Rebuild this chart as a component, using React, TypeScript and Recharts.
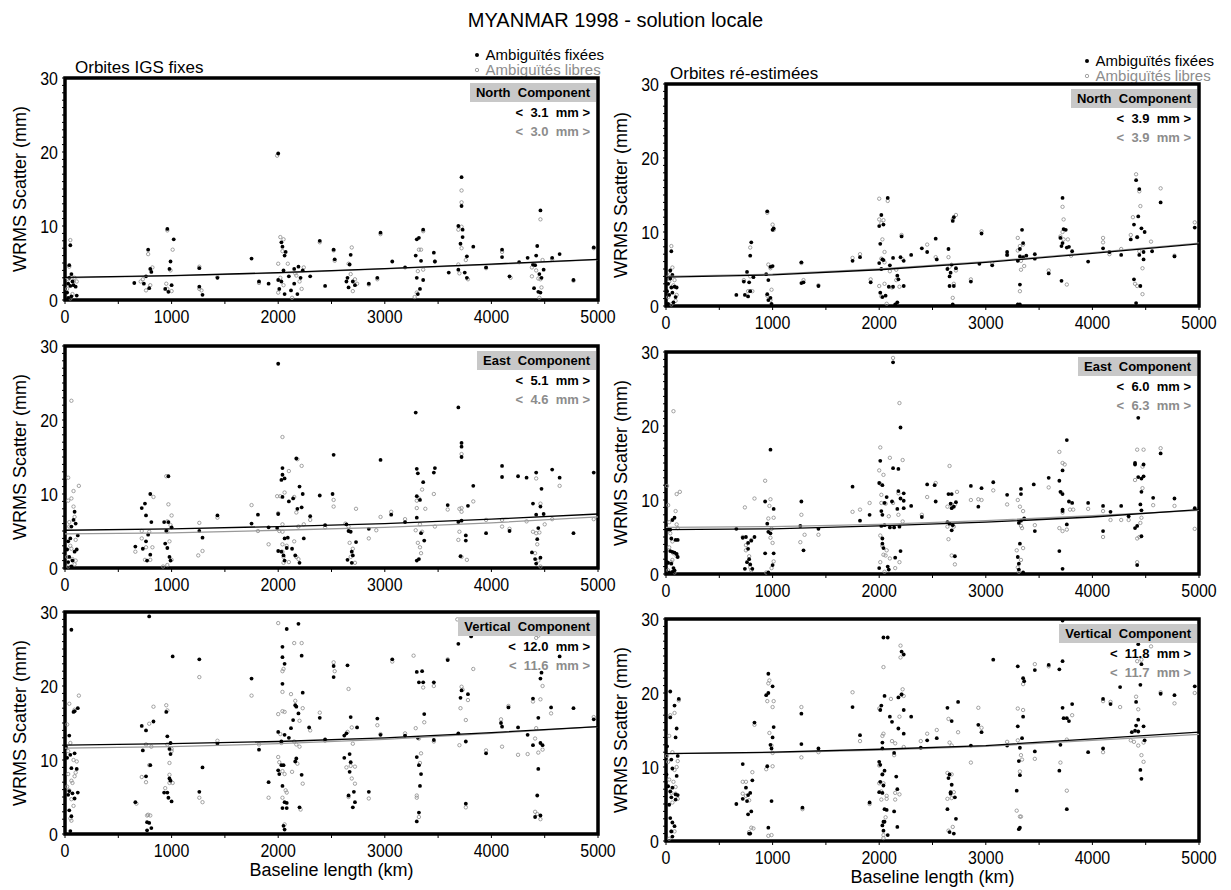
import { ScatterChart, Scatter, XAxis, YAxis, ReferenceArea } from 'recharts'

type P = [number, number]

const FONT = "'Liberation Sans', Arial, sans-serif"
const GRAY = '#8c8c8c'

const xTicks = [0, 500, 1000, 1500, 2000, 2500, 3000, 3500, 4000, 4500, 5000]
const yTicks = [0, 1, 2, 3, 4, 5, 6, 7, 8, 9, 10, 11, 12, 13, 14, 15, 16, 17, 18, 19, 20, 21, 22, 23, 24, 25, 26, 27, 28, 29, 30]
const xLabels = [0, 1000, 2000, 3000, 4000, 5000]
const yLabels = [0, 10, 20, 30]

// ---- North, IGS orbits fixed
const northIgsFixed: P[] = [
  [50, 7.4], [40, 4.7], [60, 3.5], [30, 2.2], [50, 1.9], [80, 2.0], [100, 1.8], [20, 1.0], [60, 0.5], [110, 0.6], [40, 3.0], [70, 2.5], [30, 0.3],
  [780, 6.8], [800, 4.2], [760, 3.2], [740, 2.2], [790, 1.6], [810, 3.8], [650, 2.3],
  [960, 9.6], [1020, 8.2], [990, 5.2], [980, 4.2], [940, 1.5], [970, 1.1], [1000, 2.0],
  [1260, 1.8], [1290, 0.7], [1260, 4.3], [1430, 3.0], [1750, 5.6], [1820, 2.5], [1910, 2.2],
  [2000, 19.8], [2030, 7.8], [2040, 7.2], [2060, 6.0], [2070, 6.5], [2050, 4.0], [2000, 2.7], [2010, 1.5], [2030, 2.5], [2060, 0.8],
  [2100, 3.2], [2150, 2.2], [2150, 4.2], [2190, 4.5], [2210, 3.0], [2180, 0.8], [2230, 4.0], [2120, 1.3],
  [2300, 3.2], [2390, 8.0], [2440, 1.9], [2520, 6.8], [2530, 5.5],
  [2680, 6.1], [2670, 4.8], [2650, 3.0], [2660, 1.7], [2700, 2.5], [2720, 2.0], [2640, 2.5],
  [2850, 2.2], [2960, 9.1], [2930, 3.0], [3070, 5.2], [3190, 4.4],
  [3300, 8.2], [3320, 8.4], [3360, 9.5], [3290, 6.0], [3340, 5.3], [3300, 3.0], [3330, 1.5], [3310, 0.8], [3360, 2.7], [3460, 6.4], [3470, 5.2],
  [3600, 3.7], [3720, 16.6], [3720, 12.7], [3690, 10.0], [3730, 9.5], [3710, 7.6], [3730, 8.5], [3690, 4.1], [3750, 3.7], [3770, 3.0], [3770, 5.9], [3830, 7.2],
  [3950, 4.4], [4100, 6.8], [4100, 5.8], [4170, 3.2], [4260, 5.1], [4340, 5.7],
  [4460, 12.1], [4430, 7.3], [4420, 6.0], [4390, 4.8], [4410, 4.7], [4450, 3.5], [4470, 3.0], [4490, 4.1], [4400, 1.6], [4440, 1.1], [4460, 1.0],
  [4570, 5.7], [4640, 6.2], [4770, 2.7], [4960, 7.1],
]
const northIgsFree: P[] = [
  [50, 8.1], [40, 4.5], [60, 3.2], [30, 2.8], [80, 2.5], [20, 1.5], [70, 0.8], [90, 3.0], [110, 2.5], [50, 0.2],
  [780, 6.2], [820, 4.4], [730, 2.8], [760, 1.3], [800, 2.0], [710, 2.5],
  [960, 9.4], [1010, 6.8], [990, 4.0], [950, 2.2], [960, 1.5], [1000, 1.2],
  [1260, 4.5], [1260, 1.5], [1280, 1.3], [1430, 3.1], [1820, 2.3],
  [1990, 19.5], [2020, 8.5], [2050, 8.2], [2040, 6.6], [2000, 4.9], [2020, 3.0], [2000, 1.0], [2050, 2.0], [2090, 4.9], [2160, 3.6], [2200, 2.5], [2220, 1.5], [2240, 4.4], [2130, 0.3], [2170, 3.3],
  [2390, 7.8], [2520, 6.7], [2530, 5.3], [2690, 7.1], [2660, 4.9], [2680, 3.5], [2700, 1.2], [2720, 2.8], [2740, 2.2], [2850, 2.1], [2960, 8.9], [2930, 2.8],
  [3280, 0.4], [3310, 3.9], [3340, 6.8], [3320, 6.8], [3360, 4.1], [3360, 9.3], [3470, 5.2], [3300, 1.0],
  [3720, 14.8], [3720, 13.2], [3690, 9.5], [3720, 9.9], [3720, 7.0], [3690, 4.8], [3700, 3.6], [3760, 5.4], [3780, 2.8], [3950, 4.3], [4100, 6.5], [4180, 3.0],
  [4460, 10.9], [4380, 4.4], [4420, 4.0], [4440, 2.9], [4460, 2.8], [4470, 1.7], [4450, 0.3], [4380, 3.2], [4480, 5.4], [4570, 5.5], [4770, 2.6], [4960, 7.0],
]
const northIgsFitFixed: P[] = [[0, 3.05], [1000, 3.3], [2000, 3.7], [3000, 4.25], [4000, 4.85], [5000, 5.5]]
const northIgsFitFree: P[] = [[0, 3.0], [1000, 3.25], [2000, 3.65], [3000, 4.2], [4000, 4.8], [5000, 5.45]]

// ---- North, re-estimated orbits
const northEstFixed: P[] = [
  [50, 7.4], [40, 4.8], [60, 4.2], [20, 3.0], [50, 2.5], [80, 2.6], [100, 2.5], [30, 1.5], [60, 1.8], [90, 1.2], [20, 0.3], [70, 0.5], [40, 3.7], [10, 2.0],
  [660, 1.5], [740, 1.5], [760, 4.6], [780, 3.2], [790, 6.8], [800, 8.6], [770, 1.3], [820, 3.9], [790, 2.0], [730, 3.3],
  [950, 12.8], [1010, 10.5], [1000, 10.3], [940, 4.3], [980, 5.3], [1000, 5.4], [950, 1.6], [960, 0.8], [980, 1.1], [990, 0.3], [960, 3.5],
  [1270, 5.9], [1270, 3.1], [1290, 3.2], [1430, 2.7], [1750, 6.1], [1820, 6.6], [1920, 3.2],
  [2020, 12.3], [2000, 10.8], [2040, 11.0], [2080, 14.6], [2010, 8.4], [2030, 6.3], [2000, 5.8], [2040, 6.2], [2020, 5.0], [2100, 5.5], [2130, 6.5],
  [2010, 1.8], [2030, 1.2], [2060, 1.4], [2090, 2.6], [2130, 2.6], [2150, 0.2], [2170, 4.1], [2200, 6.6], [2210, 9.4], [2230, 6.1], [2180, 3.6], [2230, 2.7], [2170, 0.5],
  [2300, 6.9], [2400, 7.8], [2450, 7.3], [2530, 9.1], [2540, 6.3],
  [2650, 7.7], [2640, 5.0], [2660, 4.0], [2700, 12.0], [2690, 11.5], [2680, 5.6], [2670, 4.5], [2660, 2.7], [2700, 2.7], [2690, 0.2], [2720, 5.1],
  [2860, 3.3], [2940, 5.7], [2960, 9.8], [3060, 5.5], [3200, 7.3], [3200, 6.9],
  [3340, 10.3], [3350, 8.5], [3320, 7.7], [3300, 6.1], [3320, 6.7], [3350, 6.6], [3380, 6.8], [3320, 2.9], [3300, 0.2], [3320, 0.2], [3460, 7.0], [3460, 6.4],
  [3590, 4.4], [3700, 9.2], [3720, 14.6], [3730, 10.4], [3720, 8.5], [3710, 8.1], [3750, 10.3], [3760, 7.9], [3710, 3.4], [3780, 8.0], [3810, 7.4],
  [3960, 6.0], [4100, 7.8], [4160, 7.3], [4270, 6.9], [4360, 9.0],
  [4410, 17.0], [4440, 15.8], [4390, 11.0], [4430, 12.1], [4460, 10.5], [4420, 9.3], [4490, 10.0], [4480, 7.3], [4440, 6.9], [4480, 6.3], [4390, 3.6], [4450, 2.7], [4410, 0.4],
  [4560, 7.4], [4640, 14.0], [4770, 6.7], [4960, 10.6],
]
const northEstFree: P[] = [
  [50, 8.1], [60, 5.2], [40, 4.3], [30, 3.3], [80, 3.5], [70, 2.8], [20, 1.2], [90, 0.7], [50, 0.2], [100, 1.5],
  [790, 7.9], [730, 3.5], [770, 2.0], [810, 2.0], [790, 4.0],
  [950, 12.6], [1000, 11.0], [1010, 10.3], [960, 5.6], [980, 5.1], [990, 2.2], [950, 1.4], [980, 0.8],
  [1270, 5.8], [1290, 3.5], [1430, 2.8], [1750, 6.5], [1820, 7.0], [1920, 3.6],
  [2000, 14.5], [2080, 14.2], [2000, 11.7], [2040, 11.6], [2020, 11.2], [2030, 9.0], [2050, 7.3], [2020, 6.4], [2050, 5.9], [2100, 4.7], [2050, 3.0], [2000, 2.7],
  [2020, 1.3], [2070, 0.3], [2120, 2.5], [2160, 3.5], [2190, 2.6], [2210, 9.6], [2220, 6.3], [2160, 4.9],
  [2450, 8.3], [2530, 6.6], [2650, 6.6], [2690, 11.7], [2720, 12.3], [2660, 5.3], [2700, 3.0], [2690, 1.1], [2720, 4.8],
  [2860, 3.6], [2960, 10.1], [3060, 5.8], [3200, 6.9],
  [3300, 9.2], [3320, 8.1], [3350, 8.3], [3330, 6.1], [3360, 5.4], [3300, 7.5], [3320, 2.0], [3330, 4.9],
  [3590, 4.8], [3700, 9.4], [3730, 11.7], [3720, 13.4], [3720, 10.0], [3730, 9.0], [3770, 9.0], [3760, 2.9], [3800, 6.8],
  [4100, 9.2], [4100, 8.6], [4160, 7.0], [4270, 7.7], [4360, 9.6],
  [4410, 17.8], [4440, 15.5], [4450, 13.5], [4380, 12.0], [4420, 9.3], [4440, 7.4], [4470, 5.1], [4400, 3.0], [4420, 2.7], [4470, 1.6],
  [4550, 8.7], [4640, 15.9], [4770, 6.8], [4960, 11.3],
]
const northEstFitFixed: P[] = [[0, 3.9], [1000, 4.2], [2000, 4.9], [3000, 5.9], [4000, 7.1], [5000, 8.4]]
const northEstFitFree: P[] = [[0, 4.0], [1000, 4.3], [2000, 5.0], [3000, 6.0], [4000, 7.2], [5000, 8.5]]

// ---- East, IGS orbits fixed
const eastIgsFixed: P[] = [
  [60, 5.6], [90, 7.6], [100, 6.0], [80, 6.5], [50, 4.0], [30, 3.6], [20, 2.5], [40, 1.5], [60, 0.2], [110, 2.5], [120, 4.4], [70, 1.0], [30, 0.8], [90, 2.2],
  [660, 2.9], [720, 8.1], [750, 8.7], [760, 7.1], [800, 10.0], [810, 6.2], [730, 2.6], [770, 1.0], [760, 3.6], [800, 1.8], [780, 4.5],
  [970, 12.4], [930, 6.2], [970, 6.2], [1000, 5.5], [940, 3.3], [960, 2.7], [980, 1.5], [990, 1.0], [950, 5.0],
  [1260, 5.0], [1290, 4.1], [1430, 7.1], [1750, 6.0], [1810, 7.2], [1910, 5.5], [1990, 5.4],
  [2000, 27.6], [2040, 13.5], [2040, 12.6], [2060, 12.1], [2030, 11.9], [2040, 9.6], [2000, 7.3], [2060, 4.0], [2000, 2.3], [2030, 2.2], [2050, 1.7], [2060, 1.0],
  [2080, 2.7], [2090, 4.1], [2100, 9.0], [2140, 9.4], [2170, 14.8], [2180, 8.0], [2200, 11.0], [2230, 10.0], [2220, 8.2], [2130, 2.6], [2160, 1.7], [2200, 0.7], [2240, 4.0],
  [2300, 7.0], [2390, 9.8], [2440, 5.8], [2520, 15.3], [2510, 10.0],
  [2640, 5.9], [2660, 5.0], [2680, 4.9], [2650, 1.1], [2700, 1.7], [2690, 2.2], [2730, 3.5], [2690, 0.7],
  [2850, 5.3], [2960, 14.6], [3060, 7.2], [3190, 6.2],
  [3290, 21.0], [3300, 13.4], [3300, 9.7], [3310, 12.8], [3360, 11.6], [3330, 9.2], [3300, 6.8], [3340, 4.7], [3370, 3.7], [3300, 1.0], [3320, 1.2], [3460, 12.9], [3470, 13.5],
  [3590, 8.5], [3690, 21.7], [3720, 16.9], [3720, 16.4], [3720, 15.0], [3690, 6.2], [3720, 6.4], [3760, 4.4], [3760, 3.7], [3710, 1.6], [3780, 8.4], [3830, 11.1],
  [3950, 4.7], [4100, 13.8], [4100, 12.3], [4250, 12.4], [4330, 12.2], [4170, 5.0],
  [4390, 8.7], [4420, 12.9], [4420, 7.2], [4460, 8.3], [4470, 10.7], [4490, 7.3], [4440, 5.4], [4430, 3.9], [4380, 2.1], [4410, 1.2], [4460, 1.4], [4420, 0.6],
  [4570, 13.3], [4640, 12.2], [4770, 4.7], [4960, 12.9],
]
const eastIgsFree: P[] = [
  [30, 12.2], [60, 22.6], [80, 10.4], [130, 11.1], [30, 9.1], [60, 9.4], [80, 8.3], [90, 6.9], [40, 6.2], [40, 5.6], [100, 3.8], [50, 3.0], [60, 2.6], [20, 1.5], [70, 1.2], [100, 1.0], [30, 0.2], [90, 0.5],
  [660, 2.2], [720, 5.0], [720, 4.0], [760, 2.8], [790, 4.9], [830, 9.6], [800, 1.1], [750, 1.1], [820, 2.8],
  [950, 12.4], [970, 8.6], [1000, 7.1], [960, 6.3], [990, 5.8], [960, 4.9], [980, 3.6], [920, 0.2], [960, 0.4], [1000, 1.1],
  [1260, 6.1], [1250, 1.7], [1290, 2.3], [1430, 6.8], [1750, 8.5], [1810, 5.0], [1910, 3.2], [1990, 9.7],
  [2040, 17.7], [2020, 9.7], [2060, 10.2], [2000, 7.4], [2040, 5.9], [2010, 5.0], [2040, 4.9], [2040, 3.2], [2040, 2.2], [2050, 1.5], [2050, 0.7], [2080, 3.0],
  [2100, 13.1], [2150, 9.6], [2170, 7.5], [2180, 14.7], [2220, 13.8], [2240, 5.9], [2190, 5.6], [2150, 3.6], [2190, 1.2], [2170, 1.5], [2100, 0.8],
  [2300, 6.5], [2440, 5.5], [2520, 9.2], [2520, 8.3], [2630, 6.0], [2660, 5.6], [2730, 8.0], [2670, 3.4], [2680, 1.5], [2720, 0.7], [2700, 2.6],
  [2850, 4.0], [2920, 5.1], [2960, 6.9], [3060, 7.6], [3190, 6.6],
  [3300, 9.1], [3300, 8.1], [3320, 9.4], [3330, 5.9], [3350, 10.6], [3380, 8.0], [3290, 5.1], [3310, 3.4], [3330, 2.8], [3350, 4.9], [3340, 2.0], [3460, 10.0], [3470, 5.6],
  [3590, 7.9], [3720, 15.4], [3700, 8.0], [3720, 8.1], [3720, 7.6], [3690, 3.8], [3700, 4.9], [3720, 1.5], [3770, 1.1], [3830, 9.0],
  [3950, 6.5], [4100, 6.5], [4100, 5.6], [4170, 5.3], [4330, 6.3],
  [4420, 12.1], [4460, 8.7], [4390, 4.9], [4420, 4.7], [4450, 4.8], [4430, 3.2], [4410, 2.0], [4440, 1.0], [4460, 0.2], [4500, 5.9], [4570, 6.6], [4640, 11.1], [4960, 6.6],
]
const eastIgsFitFixed: P[] = [[0, 5.1], [1000, 5.3], [2000, 5.6], [3000, 6.0], [4000, 6.6], [5000, 7.3]]
const eastIgsFitFree: P[] = [[0, 4.6], [1000, 4.75], [2000, 5.1], [3000, 5.5], [4000, 6.1], [5000, 6.9]]

// ---- East, re-estimated orbits
const eastEstFixed: P[] = [
  [20, 6.0], [40, 6.0], [60, 7.3], [80, 7.6], [50, 4.8], [90, 4.6], [110, 4.6], [60, 3.0], [80, 2.9], [100, 2.7], [110, 2.3], [20, 1.5], [50, 1.4], [70, 0.8], [30, 0.2], [60, 0.3], [80, 0.5], [10, 1.6], [40, 3.1],
  [660, 6.1], [720, 4.9], [750, 5.0], [770, 4.2], [800, 4.5], [740, 0.7], [760, 1.6], [780, 2.0], [790, 1.3], [810, 0.7], [830, 5.0], [770, 3.4],
  [980, 16.8], [930, 9.8], [1010, 8.8], [950, 6.8], [980, 5.5], [960, 5.7], [1010, 2.8], [930, 2.8], [1000, 1.2], [960, 0.2],
  [1270, 9.8], [1260, 6.5], [1290, 3.2], [1430, 6.1], [1750, 11.8], [1820, 7.2], [1910, 8.0],
  [2130, 28.6], [2200, 19.8], [2010, 15.3], [2130, 14.3], [2180, 14.2], [2000, 12.3], [2030, 12.0], [2070, 10.4], [2120, 9.8], [2200, 10.2], [2230, 10.9], [2230, 9.9], [2180, 11.2],
  [2050, 9.6], [2020, 8.5], [2030, 8.0], [2020, 6.5], [2050, 6.6], [2100, 6.3], [2140, 6.3], [2190, 6.4], [2030, 4.8], [2030, 4.1], [2040, 3.5], [2200, 3.1], [2150, 2.2],
  [2000, 0.8], [2080, 1.0], [2090, 0.6], [2170, 8.8], [2230, 8.9], [2300, 9.2],
  [2400, 7.7], [2450, 12.1], [2520, 12.0], [2530, 9.8],
  [2650, 10.8], [2680, 10.8], [2670, 9.5], [2680, 8.9], [2700, 9.1], [2660, 6.8], [2690, 6.6], [2680, 5.9], [2720, 9.7], [2710, 2.4], [2640, 7.0],
  [2860, 11.9], [2930, 9.1], [2960, 11.6], [3070, 12.4], [3200, 10.7],
  [3330, 11.5], [3330, 10.8], [3310, 6.9], [3330, 7.2], [3360, 7.5], [3300, 2.3], [3320, 4.1], [3310, 1.4], [3310, 0.6], [3350, 0.2], [3450, 12.1], [3460, 5.8],
  [3590, 13.0], [3690, 12.6], [3700, 11.1], [3720, 10.8], [3720, 14.0], [3760, 18.1], [3780, 9.8], [3810, 9.6], [3720, 8.7], [3720, 8.5], [3690, 3.1], [3760, 6.7], [3720, 0.7],
  [3960, 9.6], [4100, 9.2], [4100, 5.8], [4170, 8.4], [4270, 9.2], [4340, 7.8],
  [4430, 21.1], [4400, 15.0], [4400, 14.8], [4430, 13.1], [4460, 12.9], [4480, 13.2], [4480, 14.8], [4460, 11.1], [4450, 9.4], [4460, 8.6], [4420, 6.5], [4400, 6.2], [4460, 5.1], [4420, 1.2],
  [4570, 10.3], [4640, 16.3], [4770, 10.2], [4960, 8.9],
]
const eastEstFree: P[] = [
  [70, 22.0], [10, 11.9], [100, 10.8], [130, 11.1], [20, 9.3], [90, 8.5], [30, 7.0], [100, 6.7], [110, 6.2], [40, 5.5], [60, 4.4], [30, 3.6], [70, 2.8], [100, 2.4], [50, 1.6], [20, 0.5], [80, 0.2], [60, 1.9],
  [740, 9.0], [830, 10.2], [720, 5.0], [750, 3.9], [780, 2.4], [800, 4.6], [750, 3.2], [790, 0.9], [800, 0.5],
  [930, 12.6], [980, 10.1], [970, 9.2], [960, 7.5], [1010, 7.6], [990, 6.1], [980, 4.9], [1000, 4.2], [1010, 1.7], [990, 0.8], [940, 0.2],
  [1270, 8.0], [1260, 4.3], [1300, 5.3], [1430, 5.3], [1750, 8.4], [1820, 8.7], [1910, 9.6],
  [2010, 17.1], [2100, 15.7], [2000, 14.0], [2040, 13.4], [2010, 12.2], [2020, 10.7], [2020, 9.6], [2060, 9.5], [2130, 9.6], [2180, 10.9], [2220, 15.4], [2220, 7.1], [2180, 8.0],
  [2010, 5.2], [2030, 3.8], [2040, 2.6], [2060, 2.5], [2070, 3.2], [2100, 2.1], [2010, 1.6], [2150, 0.8], [2190, 1.6], [2050, 0.3], [2190, 23.1], [2130, 29.2], [2090, 7.8],
  [2400, 8.0], [2450, 10.4], [2530, 12.3], [2660, 14.6], [2640, 9.1], [2680, 9.4], [2640, 6.4], [2650, 4.7], [2700, 6.4], [2680, 2.5], [2710, 1.3], [2710, 9.4], [2730, 11.1],
  [2860, 10.0], [2930, 10.1], [2960, 10.0], [3070, 11.3], [3200, 9.4],
  [3300, 10.0], [3320, 9.1], [3350, 8.5], [3340, 6.2], [3330, 6.5], [3290, 3.2], [3300, 0.9], [3310, 0.3], [3350, 3.5], [3330, 1.9], [3460, 6.6],
  [3590, 11.7], [3690, 16.5], [3720, 15.0], [3740, 14.8], [3710, 11.0], [3720, 8.3], [3690, 6.2], [3720, 5.8], [3760, 6.0], [3790, 8.7], [3820, 8.7],
  [3960, 8.8], [4100, 8.5], [4100, 5.0], [4170, 7.3], [4270, 7.3], [4340, 7.3],
  [4420, 16.8], [4480, 16.8], [4400, 12.7], [4470, 14.5], [4470, 11.6], [4460, 7.6], [4420, 4.8], [4440, 5.0], [4450, 6.9], [4420, 1.6],
  [4570, 9.3], [4640, 17.0], [4770, 9.2], [4960, 6.1],
]
const eastEstFitFixed: P[] = [[0, 6.0], [1000, 6.1], [2000, 6.5], [3000, 7.0], [4000, 7.7], [5000, 8.7]]
const eastEstFitFree: P[] = [[0, 6.3], [1000, 6.4], [2000, 6.7], [3000, 7.2], [4000, 7.9], [5000, 8.6]]

// ---- Vertical, IGS orbits fixed
const vertIgsFixed: P[] = [
  [60, 27.6], [120, 17.0], [80, 16.5], [90, 16.6], [40, 13.3], [10, 11.7], [50, 10.7], [90, 10.9], [20, 10.3], [110, 8.8], [60, 8.9], [40, 5.8], [70, 5.5], [120, 5.6], [90, 4.8], [40, 3.2], [60, 2.4], [50, 0.4], [30, 5.3],
  [660, 4.3], [720, 14.6], [760, 14.0], [830, 15.2], [730, 11.3], [760, 7.8], [800, 9.3], [790, 29.4], [770, 1.6], [790, 1.5], [810, 0.8], [770, 0.5],
  [950, 16.5], [960, 13.2], [1010, 24.0], [980, 11.5], [990, 12.3], [980, 7.5], [990, 7.2], [930, 5.6], [960, 5.6], [970, 4.9], [1000, 4.4], [990, 10.8],
  [1260, 23.6], [1260, 5.7], [1290, 9.0], [1430, 12.2], [1750, 21.0], [1820, 11.4], [1910, 7.0],
  [2080, 27.7], [2040, 25.3], [2040, 23.9], [2060, 23.0], [2040, 20.3], [2000, 13.8], [2060, 13.4], [2030, 12.5], [2000, 8.6], [2030, 9.3], [2050, 9.3], [2010, 8.1],
  [2040, 6.5], [2060, 4.3], [2080, 4.2], [2040, 3.5], [2080, 3.5], [2050, 1.1], [2060, 0.6], [2190, 28.4], [2220, 24.1], [2230, 19.1], [2160, 17.4], [2170, 17.2],
  [2190, 16.3], [2140, 15.4], [2120, 14.3], [2100, 13.0], [2170, 10.2], [2160, 9.8], [2220, 8.0], [2200, 3.6],
  [2290, 14.4], [2390, 15.7], [2440, 12.8], [2520, 22.7], [2520, 21.2],
  [2650, 22.8], [2680, 15.8], [2620, 13.3], [2640, 13.6], [2620, 10.3], [2670, 10.8], [2680, 9.7], [2670, 8.4], [2660, 5.2], [2710, 5.7], [2720, 4.3], [2700, 3.6], [2740, 14.4],
  [2850, 5.7], [2930, 15.6], [2960, 13.4], [3070, 23.6], [3190, 13.3],
  [3300, 21.9], [3320, 20.5], [3350, 22.0], [3360, 20.5], [3370, 16.2], [3310, 13.0], [3300, 10.4], [3320, 9.3], [3340, 8.1], [3330, 6.5], [3320, 2.9], [3300, 1.7], [3460, 20.5], [3460, 12.7],
  [3590, 23.5], [3690, 25.7], [3720, 19.4], [3710, 18.4], [3780, 18.9], [3690, 13.6], [3760, 12.5], [3760, 4.1], [3810, 26.7],
  [3950, 10.9], [4090, 15.0], [4100, 14.5], [4160, 17.1], [4250, 14.4], [4340, 13.4],
  [4470, 21.8], [4460, 21.0], [4390, 18.3], [4440, 15.7], [4460, 12.3], [4390, 12.0], [4480, 12.0], [4440, 8.8], [4430, 5.2], [4410, 2.3], [4460, 2.5],
  [4560, 17.1], [4640, 24.0], [4770, 17.0], [4960, 15.5],
]
const vertIgsFree: P[] = [
  [40, 17.6], [130, 18.7], [90, 16.8], [20, 14.8], [50, 12.3], [30, 11.2], [80, 10.0], [110, 9.8], [30, 8.1], [90, 7.8], [60, 7.2], [100, 8.3], [70, 6.9], [40, 5.9], [60, 4.7], [80, 3.8], [50, 2.1], [60, 1.8], [20, 6.4],
  [720, 7.7], [760, 7.0], [790, 9.3], [830, 17.2], [760, 12.1], [810, 11.8], [790, 14.9], [780, 2.6], [770, 2.5], [800, 2.5], [670, 4.1],
  [950, 17.4], [960, 16.7], [1000, 11.5], [1000, 11.2], [980, 9.6], [960, 12.1], [980, 6.9], [1010, 6.9], [940, 6.2], [980, 8.0],
  [1260, 21.2], [1260, 4.9], [1290, 4.3], [1430, 12.6], [1750, 18.7], [1820, 12.1], [1910, 4.9],
  [2000, 28.5], [2040, 19.2], [2050, 22.3], [2040, 22.0], [2040, 16.6], [2060, 16.5], [2000, 16.2], [2020, 13.5], [2030, 12.3], [2000, 10.4], [2010, 9.7], [2040, 8.5],
  [2060, 8.1], [2070, 5.9], [2080, 5.6], [2040, 4.9], [2060, 1.3], [2150, 25.8], [2220, 25.8], [2120, 18.9], [2160, 18.0], [2230, 17.0], [2200, 15.3], [2150, 12.5],
  [2170, 12.1], [2200, 11.8], [2180, 9.5], [2130, 8.4], [2230, 6.8], [2210, 3.3],
  [2300, 14.0], [2390, 16.4], [2440, 12.6], [2520, 23.2], [2530, 22.0], [2660, 19.6], [2650, 13.8], [2640, 9.0], [2680, 9.2], [2720, 9.1], [2690, 7.5], [2660, 5.0], [2720, 6.8], [2700, 12.2], [2690, 14.4],
  [2850, 4.8], [2930, 14.7], [2960, 13.5], [3070, 23.3], [3190, 13.6],
  [3270, 24.1], [3290, 14.3], [3320, 12.9], [3340, 10.9], [3330, 9.6], [3300, 5.2], [3300, 4.9], [3320, 2.3], [3360, 19.8], [3370, 15.1], [3460, 20.0], [3460, 12.5],
  [3590, 23.6], [3680, 29.0], [3700, 12.0], [3710, 17.0], [3730, 19.5], [3720, 19.9], [3760, 15.4], [3780, 18.1], [3760, 3.6], [3830, 22.3],
  [3950, 11.3], [4090, 15.5], [4100, 11.8], [4160, 17.3], [4250, 10.7], [4340, 10.8],
  [4390, 17.9], [4440, 26.8], [4420, 26.5], [4460, 18.2], [4480, 20.0], [4420, 14.3], [4480, 11.4], [4440, 11.0], [4410, 12.9], [4410, 3.0], [4430, 2.7], [4460, 2.0],
  [4560, 16.3], [4960, 15.8],
]
const vertIgsFitFixed: P[] = [[0, 12.0], [1000, 12.2], [2000, 12.5], [3000, 13.0], [4000, 13.7], [5000, 14.5]]
const vertIgsFitFree: P[] = [[0, 11.6], [1000, 11.8], [2000, 12.2], [3000, 12.8], [4000, 13.6], [5000, 14.5]]

// ---- Vertical, re-estimated orbits
const vertEstFixed: P[] = [
  [40, 20.2], [80, 18.3], [120, 19.2], [100, 15.2], [40, 16.7], [90, 14.0], [110, 11.5], [10, 12.8], [50, 11.0], [60, 9.8], [100, 8.8], [20, 7.4], [60, 7.2],
  [40, 6.7], [90, 6.3], [110, 6.2], [50, 5.9], [90, 5.6], [30, 4.9], [40, 3.1], [60, 2.5], [80, 2.0], [50, 1.3], [60, 0.6], [5, 9.0],
  [660, 5.0], [720, 10.4], [750, 7.2], [720, 5.7], [760, 5.4], [770, 6.2], [790, 6.5], [810, 8.2], [770, 3.6], [800, 4.0], [780, 1.0], [790, 1.0], [830, 16.0],
  [960, 22.6], [1000, 20.9], [940, 19.7], [960, 20.0], [950, 10.1], [990, 12.5], [980, 13.0], [1010, 15.4], [1000, 14.0], [990, 5.4], [960, 1.8],
  [1270, 17.2], [1270, 13.1], [1280, 4.5], [1430, 12.5], [1750, 18.1], [1820, 14.3], [1910, 5.2],
  [2040, 27.5], [2080, 27.5], [2050, 19.6], [2010, 17.7], [2020, 18.3], [2030, 13.3], [2030, 12.5], [2000, 10.7], [2010, 10.3], [2030, 9.0], [2050, 9.5], [2000, 6.6],
  [2030, 6.5], [2010, 8.0], [2040, 7.5], [2050, 4.3], [2070, 4.2], [2040, 2.6], [2050, 2.6], [2030, 2.1], [2040, 1.4], [2080, 0.8],
  [2210, 25.6], [2230, 25.2], [2180, 19.4], [2210, 19.8], [2120, 16.1], [2100, 16.8], [2180, 15.2], [2230, 17.7], [2230, 14.5], [2140, 11.9], [2160, 8.7], [2170, 7.0], [2140, 4.0], [2170, 1.9], [2300, 16.8],
  [2390, 12.6], [2450, 13.6], [2540, 13.9],
  [2640, 18.0], [2650, 8.5], [2660, 9.0], [2680, 16.2], [2740, 18.8], [2670, 6.6], [2670, 6.4], [2680, 7.6], [2710, 5.9], [2720, 3.0], [2640, 4.3], [2660, 1.2], [2700, 1.0],
  [2860, 12.9], [2930, 15.7], [2960, 14.7], [3070, 24.5], [3200, 12.9],
  [3300, 23.6], [3350, 22.0], [3360, 21.6], [3350, 16.8], [3300, 15.5], [3340, 13.9], [3320, 12.6], [3310, 10.8], [3320, 8.9], [3290, 6.8], [3310, 1.6], [3320, 1.8], [3460, 23.1], [3460, 12.1],
  [3590, 23.8], [3690, 23.2], [3720, 24.3], [3720, 18.0], [3730, 16.6], [3760, 16.6], [3780, 16.2], [3810, 18.5], [3700, 13.0], [3690, 9.5], [3760, 4.3], [3720, 29.8],
  [3960, 12.0], [4100, 19.2], [4100, 12.5], [4170, 18.5], [4260, 20.8],
  [4430, 26.6], [4460, 23.9], [4450, 21.1], [4410, 18.8], [4430, 16.4], [4410, 15.6], [4480, 15.5], [4370, 14.7], [4400, 14.9], [4430, 14.8], [4490, 13.6], [4450, 9.6], [4460, 8.4],
  [4640, 19.9], [4770, 19.7], [4960, 20.9],
]
const vertEstFree: P[] = [
  [40, 17.0], [80, 17.3], [120, 19.0], [30, 14.2], [110, 10.8], [10, 11.5], [60, 12.0], [100, 10.0], [80, 9.6], [30, 8.3], [70, 8.0], [90, 7.3], [50, 6.5], [90, 6.4], [110, 5.7], [20, 10.7], [60, 5.2], [50, 1.3], [80, 1.3], [30, 0.3],
  [720, 8.0], [750, 8.0], [720, 6.4], [750, 6.1], [780, 5.5], [810, 9.3], [830, 15.7], [800, 1.8], [780, 1.2], [820, 1.7],
  [940, 9.7], [970, 21.7], [960, 21.3], [950, 18.9], [1000, 18.1], [1010, 18.9], [970, 14.6], [990, 12.9], [1000, 11.9], [1000, 10.1], [960, 0.7], [990, 0.8],
  [1270, 18.1], [1270, 11.3], [1280, 4.3], [1430, 12.0], [1750, 20.1], [1820, 13.5], [1910, 5.0],
  [2040, 23.5], [2000, 17.9], [2040, 14.5], [2030, 14.2], [2000, 10.2], [2030, 9.0], [2000, 7.8], [2040, 7.8], [2020, 6.7], [2020, 5.6], [2070, 6.1], [2070, 5.7], [2060, 3.2], [2040, 0.8], [2040, 0.4],
  [2200, 26.4], [2200, 24.8], [2220, 20.5], [2210, 19.8], [2230, 19.6], [2110, 19.2], [2190, 16.8], [2150, 13.2], [2140, 11.6], [2120, 13.5], [2150, 6.5], [2190, 6.3], [2150, 5.6], [2230, 12.7],
  [2390, 13.5], [2450, 14.5], [2540, 15.0], [2650, 16.5], [2660, 13.3], [2680, 12.9], [2640, 9.2], [2680, 9.0], [2640, 5.7], [2680, 5.8], [2700, 6.6], [2690, 1.9], [2650, 1.4], [2740, 14.7],
  [2860, 10.6], [2930, 18.0], [2960, 15.3], [3200, 13.4],
  [3300, 17.9], [3350, 17.7], [3350, 21.2], [3300, 13.6], [3330, 11.6], [3340, 11.0], [3320, 9.4], [3290, 4.1], [3320, 3.3], [3330, 3.3], [3460, 23.9], [3460, 11.1],
  [3590, 23.6], [3700, 10.6], [3760, 6.8], [3760, 13.7], [3810, 17.0],
  [4100, 18.9], [4100, 12.0], [4170, 18.8], [4260, 18.1], [4410, 19.5], [4420, 24.3], [4460, 24.5], [4430, 17.8], [4390, 13.4], [4430, 12.9], [4480, 13.3], [4460, 11.6], [4480, 10.7], [4360, 13.6],
  [4550, 26.3], [4640, 20.1], [4770, 18.6], [4960, 20.0],
]
const vertEstFitFixed: P[] = [[0, 11.8], [1000, 12.0], [2000, 12.4], [3000, 12.9], [4000, 13.8], [5000, 14.7]]
const vertEstFitFree: P[] = [[0, 11.8], [1000, 11.95], [2000, 12.3], [3000, 12.8], [4000, 13.6], [5000, 14.4]]

const PLOT_W = 533
const PLOT_H = 222

const pts = (a: P[]) => a.map(([x, y]) => ({ x, y }))

const Dot = (p: any) => <circle cx={p.cx} cy={p.cy} r={1.9} fill="#000" />
const Ring = (p: any) => <circle cx={p.cx} cy={p.cy} r={1.7} fill="none" stroke={GRAY} strokeWidth={0.8} />
const NoShape = () => <g />

// condensed tick labels, like the original's narrow Helvetica
const XTick = (p: any) =>
  xLabels.includes(p.payload.value) ? (
    <text transform={`translate(${p.x},${p.y}) scale(0.84,1)`} textAnchor="middle" dy="0.71em" fontSize={19} fontFamily={FONT} fill="#000">
      {p.payload.value}
    </text>
  ) : <g />
const YTick = (p: any) =>
  yLabels.includes(p.payload.value) ? (
    <text transform={`translate(${p.x},${p.y}) scale(0.84,1)`} textAnchor="end" dy="0.36em" fontSize={19} fontFamily={FONT} fill="#000">
      {p.payload.value}
    </text>
  ) : <g />

interface PanelProps {
  left: number
  top: number
  fixed: P[]
  free: P[]
  fitFixed: P[]
  fitFree: P[]
  comp: string
  wrms: [string, string]
  xTitle?: boolean
}

function Panel({ left, top, fixed, free, fitFixed, fitFree, comp, wrms, xTitle }: PanelProps) {
  const plotRight = left + PLOT_W
  return (
    <>
      <div style={{ position: 'absolute', left: left - 65, top: top - 10 }}>
        <ScatterChart width={65 + PLOT_W + 25} height={10 + PLOT_H + 40} margin={{ top: 10, right: 25, bottom: 0, left: 25 }}>
          <XAxis type="number" dataKey="x" domain={[0, 5000]} ticks={xTicks} interval={0} height={40}
            axisLine={false} tickLine={{ stroke: '#000' }} tickSize={4} tickMargin={5} tick={XTick} />
          <YAxis type="number" dataKey="y" domain={[0, 30]} ticks={yTicks} interval={0} width={40}
            axisLine={false} tickLine={{ stroke: '#000' }} tickSize={3} tickMargin={4} tick={YTick} />
          <Scatter data={pts(free)} shape={Ring} isAnimationActive={false} />
          <Scatter data={pts(fixed)} shape={Dot} isAnimationActive={false} />
          <Scatter data={pts(fitFree)} shape={NoShape} line={{ stroke: '#999', strokeWidth: 1.3 }} lineType="joint" isAnimationActive={false} />
          <Scatter data={pts(fitFixed)} shape={NoShape} line={{ stroke: '#000', strokeWidth: 1.3 }} lineType="joint" isAnimationActive={false} />
          <ReferenceArea x1={0} x2={5000} y1={0} y2={30} fill="none" stroke="#000" strokeWidth={3.5} ifOverflow="visible" />
        </ScatterChart>
      </div>
      <div style={{ position: 'absolute', left: left - 45, top: top + PLOT_H / 2, transform: 'translate(-50%, -50%) rotate(-90deg)', whiteSpace: 'nowrap', fontFamily: FONT, fontSize: 18, lineHeight: 1 }}>
        WRMS Scatter (mm)
      </div>
      <div style={{ position: 'absolute', right: 1231 - (plotRight - 2), top: top + 5, height: 19, lineHeight: '19px', background: '#c8c8c8', padding: '0 6px', fontFamily: FONT, fontWeight: 'bold', fontSize: 13, whiteSpace: 'pre' }}>
        {`${comp}  Component`}
      </div>
      <div style={{ position: 'absolute', right: 1231 - (plotRight - 8), top: top + 27, fontFamily: FONT, fontWeight: 'bold', fontSize: 13, whiteSpace: 'pre', lineHeight: '16px', textAlign: 'right' }}>
        <div style={{ color: '#000' }}>{`<  ${wrms[0]}  mm >`}</div>
        <div style={{ color: GRAY, marginTop: 3 }}>{`<  ${wrms[1]}  mm >`}</div>
      </div>
      {xTitle && (
        <div style={{ position: 'absolute', left: left + PLOT_W / 2, top: top + PLOT_H + 27, transform: 'translateX(-50%)', whiteSpace: 'nowrap', fontFamily: FONT, fontSize: 18, lineHeight: 1 }}>
          Baseline length (km)
        </div>
      )}
    </>
  )
}

function Header({ left, right, top, title }: { left: number; right: number; top: number; title: string }) {
  return (
    <>
      <div style={{ position: 'absolute', left, top: top + 4, fontFamily: FONT, fontSize: 17, lineHeight: 1 }}>{title}</div>
      <div style={{ position: 'absolute', right: 1231 - right, top: top - 8, fontFamily: FONT, fontSize: 15, lineHeight: '15px' }}>
        <div style={{ display: 'flex', alignItems: 'center', gap: 6 }}>
          <svg width={6} height={6}><circle cx={3} cy={3} r={2} fill="#000" /></svg>
          <span>Ambiguïtés fixées</span>
        </div>
        <div style={{ display: 'flex', alignItems: 'center', gap: 6, color: GRAY }}>
          <svg width={6} height={6}><circle cx={3} cy={3} r={1.7} fill="none" stroke={GRAY} strokeWidth={0.8} /></svg>
          <span>Ambiguïtés libres</span>
        </div>
      </div>
    </>
  )
}

export default function App() {
  return (
    <div style={{ position: 'absolute', left: 0, top: 0, width: 1231, height: 890, background: '#fff', fontFamily: FONT }}>
      <div style={{ position: 'absolute', left: 0, top: 9, width: 1231, textAlign: 'center', fontSize: 20, fontFamily: FONT }}>
        MYANMAR 1998 - solution locale
      </div>
      <Header left={75} right={604} top={55} title="Orbites IGS fixes" />
      <Header left={670} right={1214} top={61} title="Orbites ré-estimées" />

      <Panel left={65} top={78} fixed={northIgsFixed} free={northIgsFree} fitFixed={northIgsFitFixed} fitFree={northIgsFitFree} comp="North" wrms={['3.1', '3.0']} />
      <Panel left={666} top={84} fixed={northEstFixed} free={northEstFree} fitFixed={northEstFitFixed} fitFree={northEstFitFree} comp="North" wrms={['3.9', '3.9']} />
      <Panel left={65} top={346} fixed={eastIgsFixed} free={eastIgsFree} fitFixed={eastIgsFitFixed} fitFree={eastIgsFitFree} comp="East" wrms={['5.1', '4.6']} />
      <Panel left={666} top={352} fixed={eastEstFixed} free={eastEstFree} fitFixed={eastEstFitFixed} fitFree={eastEstFitFree} comp="East" wrms={['6.0', '6.3']} />
      <Panel left={65} top={612} fixed={vertIgsFixed} free={vertIgsFree} fitFixed={vertIgsFitFixed} fitFree={vertIgsFitFree} comp="Vertical" wrms={['12.0', '11.6']} xTitle />
      <Panel left={666} top={619} fixed={vertEstFixed} free={vertEstFree} fitFixed={vertEstFitFixed} fitFree={vertEstFitFree} comp="Vertical" wrms={['11.8', '11.7']} xTitle />
    </div>
  )
}
